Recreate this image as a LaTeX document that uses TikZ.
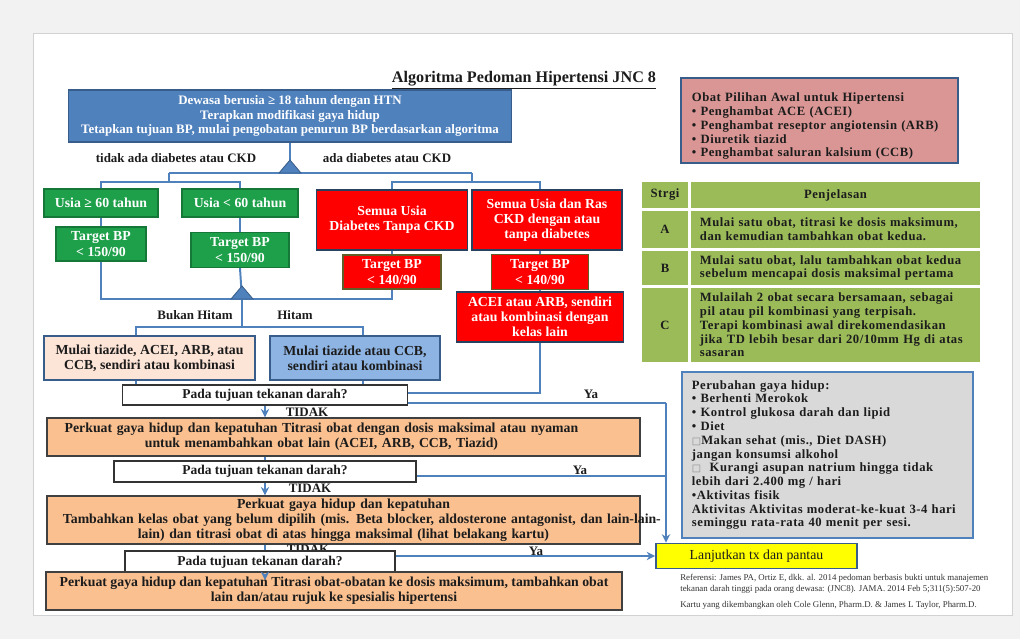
\documentclass[tikz,border=0pt]{standalone}
\usepackage{fontspec}
\setmainfont{Liberation Serif}
\newfontfamily\symfont{DejaVu Sans}
\usetikzlibrary{arrows.meta}
\definecolor{jncBlue}{RGB}{79,129,189}
\definecolor{jncBlueDark}{RGB}{56,93,138}
\definecolor{jncGreen}{RGB}{30,160,75}
\definecolor{jncRed}{RGB}{255,0,0}
\definecolor{jncPeach}{RGB}{252,228,214}
\definecolor{jncSky}{RGB}{142,180,227}
\definecolor{jncOrange}{RGB}{250,192,144}
\definecolor{jncPink}{RGB}{217,150,148}
\definecolor{jncOlive}{RGB}{155,187,89}
\definecolor{jncGray}{RGB}{217,217,217}
\definecolor{jncYellow}{RGB}{255,255,0}
\definecolor{jncText}{RGB}{28,28,28}
\definecolor{pageGray}{RGB}{242,242,242}
\definecolor{panelEdge}{RGB}{210,210,210}
\newcommand{\gapbox}{{\symfont\color{black!45}\fontsize{7}{7}\selectfont □}}
\tikzset{
  flowbox/.style={draw, line width=0.9pt, inner sep=0pt, align=center, text=jncText,
    font=\bfseries\fontsize{9.8}{10.8}\selectfont},
  bluebox/.style={flowbox, draw=jncBlueDark, line width=1.2pt, fill=jncBlue, text=white,
    font=\bfseries\fontsize{9.2}{10.4}\selectfont},
  greenbox/.style={flowbox, draw=jncGreen!75!black, fill=jncGreen, text=white},
  redbox/.style={flowbox, draw=jncBlueDark!70!black, line width=1.2pt, fill=jncRed, text=white},
  redtarget/.style={flowbox, draw=olive!60!black, line width=1.2pt, fill=jncRed, text=white},
  askbox/.style={flowbox, draw=black!80, fill=white, font=\bfseries\fontsize{9.6}{10.4}\selectfont},
  stepbox/.style={flowbox, draw=black!75, fill=jncOrange},
  lbl/.style={inner sep=0pt, text=jncText, font=\bfseries\fontsize{9.2}{10}\selectfont},
  cell/.style={fill=jncOlive, inner sep=0pt, text=jncText, align=center,
    font=\bfseries\fontsize{9}{9.8}\selectfont\addfontfeature{LetterSpace=4}},
  celltext/.style={cell, align=left, text width=6.775cm, inner xsep=0.225cm},
  listbox/.style={draw=jncBlueDark, line width=1.2pt, align=left, text=jncText, inner ysep=0pt,
    font=\bfseries\fontsize{9}{9.8}\selectfont\addfontfeature{LetterSpace=4}},
  conn/.style={draw=jncBlue, line width=1.4pt},
  connarrow/.style={conn, -{Stealth[length=6pt,width=6pt]}},
  branch/.style={fill=jncBlue, draw=jncBlueDark, line width=0.6pt},
}
\begin{document}
\begin{tikzpicture}[x=0.025cm, y=-0.025cm]
\useasboundingbox (0,0) rectangle (1020,639);
\fill[pageGray] (0,0) rectangle (1020,639);
\draw[panelEdge, fill=white] (33,33) rectangle (1012,615);

\node[font=\bfseries\fontsize{11.5}{13}\selectfont, text=jncText] (title) at (524,80) {\underline{Algoritma Pedoman Hipertensi JNC 8}};

% algorithm, left column
\node[bluebox, minimum width=11.075cm, minimum height=1.3cm] (hdr) at (290,116) {Dewasa berusia ≥ 18 tahun dengan HTN\\Terapkan modifikasi gaya hidup\\Tetapkan tujuan BP, mulai pengobatan penurun BP berdasarkan algoritma};
\node[lbl] (noDm) at (176,158) {tidak ada diabetes atau CKD};
\node[lbl] (dm) at (387,158) {ada diabetes atau CKD};

\node[greenbox, minimum width=2.85cm, minimum height=0.7cm] (g1) at (101,203) {Usia ≥ 60 tahun};
\node[greenbox, minimum width=2.9cm, minimum height=0.7cm] (g2) at (240,203) {Usia < 60 tahun};
\node[greenbox, minimum width=2.25cm, minimum height=0.85cm] (g3) at (101,244) {Target BP\\< 150/90};
\node[greenbox, minimum width=2.45cm, minimum height=0.875cm] (g4) at (240,250) {Target BP\\< 150/90};

\node[redbox, minimum width=3.775cm, minimum height=1.5cm] (r1) at (392,220) {Semua Usia\\Diabetes Tanpa CKD};
\node[redbox, minimum width=3.75cm, minimum height=1.5cm] (r2) at (547,220) {Semua Usia dan Ras\\CKD dengan atau\\tanpa diabetes};
\node[redtarget, minimum width=2.45cm, minimum height=0.85cm] (r3) at (392,272) {Target BP\\< 140/90};
\node[redtarget, minimum width=2.425cm, minimum height=0.875cm] (r4) at (540,272) {Target BP\\< 140/90};
\node[redbox, minimum width=4.175cm, minimum height=1.25cm] (r5) at (540,317) {ACEI atau ARB, sendiri\\atau kombinasi dengan\\kelas lain};

\node[lbl] (nonBlack) at (195,315) {Bukan Hitam};
\node[lbl] (black) at (295,315) {Hitam};
\node[flowbox, draw=jncBlueDark, fill=jncPeach, minimum width=5.275cm, minimum height=1.1cm] (peach) at (149.5,358) {Mulai tiazide, ACEI, ARB, atau\\CCB, sendiri atau kombinasi};
\node[flowbox, draw=jncBlueDark, fill=jncSky, minimum width=4.25cm, minimum height=1.1cm] (sky) at (355,358) {Mulai tiazide atau CCB,\\sendiri atau kombinasi};

\node[askbox, minimum width=7.125cm, minimum height=0.5cm] (pada1) at (265,395) {Pada tujuan tekanan darah?};
\node[lbl] (no1) at (307,412) {TIDAK};
\node[stepbox, minimum width=14.825cm, minimum height=0.95cm, text width=14.825cm] (o1) at (343.5,437) {\hspace*{-1.1cm}Perkuat gaya hidup dan kepatuhan Titrasi obat dengan dosis maksimal atau nyaman\\\hspace*{-1.1cm}untuk menambahkan obat lain (ACEI, ARB, CCB, Tiazid)};
\node[askbox, minimum width=7.55cm, minimum height=0.525cm] (pada2) at (265,471.5) {Pada tujuan tekanan darah?};
\node[lbl] (no2) at (310,488) {TIDAK};
\node[stepbox, minimum width=14.825cm, minimum height=1.2cm, text width=14.825cm] (o2) at (343.5,520) {Perkuat gaya hidup dan kepatuhan\\\makebox[\linewidth][l]{\hspace*{0.4cm}Tambahkan kelas obat yang belum dipilih (mis. Beta blocker, aldosterone antagonist, dan lain-lain-}\\lain) dan titrasi obat di atas hingga maksimal (lihat belakang kartu)};
\node[lbl] (no3) at (308,549) {TIDAK};
\node[askbox, minimum width=6.75cm, minimum height=0.55cm] (pada3) at (260,562) {Pada tujuan tekanan darah?};
\node[stepbox, minimum width=14.4cm, minimum height=0.95cm] (o3) at (334,591) {Perkuat gaya hidup dan kepatuhan Titrasi obat-obatan ke dosis maksimum, tambahkan obat\\lain dan/atau rujuk ke spesialis hipertensi};

\node[lbl] (yes1) at (591,394) {Ya};
\node[lbl] (yes2) at (580,470) {Ya};
\node[lbl] (yes3) at (536,551) {Ya};
\node[draw=jncBlueDark, line width=1.2pt, fill=jncYellow, text=jncText, minimum width=5.025cm, minimum height=0.625cm, font=\fontsize{9.8}{11}\selectfont] (lanj) at (756.5,556) {Lanjutkan tx dan pantau};

% junctions
\coordinate (tri1) at (290,173);
\coordinate (jL) at (169,173);
\coordinate (jR) at (472,173);
\coordinate (jL2) at (169,182);
\coordinate (jR2) at (472,182);
\coordinate (tri2) at (242,299);
\coordinate (jB) at (242,327);
\coordinate (jB1) at (136,327);
\coordinate (jB2) at (363,327);
\coordinate (r5in) at (540,393);
\coordinate (yaCol) at (666,403);
\coordinate (ya2) at (666,476);
\coordinate (o3in) at (265,580);

\draw[conn] (hdr.south) -- (tri1);
\draw[conn] (jL) -- (jR);
\draw[conn] (jL) -- (jL2);
\draw[conn] (jR) -- (jR2);
\draw[conn] (g1.north) |- (jL2) -| (g2.north);
\draw[conn] (r1.north) |- (jR2) -| (r4.north |- r2.north);
\draw[conn] (g1.south) -- (g3.north);
\draw[conn] (g2.south) -- (g4.north);
\draw[conn] (r1.south) -- (r3.north);
\draw[conn] (r4.north |- r2.south) -- (r4.north);
\draw[conn] (r4.south) -- (r5.north);
\draw[conn] (g3.south) |- (tri2) -| (r3.south);
\draw[conn] (g4.south) -- (tri2);
\draw[conn] (tri2) -- (jB);
\draw[conn] (jB1 |- peach.north) -- (jB1) -- (jB2) -- (jB2 |- sky.north);
\draw[conn] (jB1 |- peach.south) -- (jB1 |- pada1.north);
\draw[conn] (jB2 |- sky.south) -- (jB2 |- pada1.north);
\draw[conn] (r5.south) -- (r5in) -- (pada1.east |- r5in);
\draw[conn] (pada1.east |- yaCol) -- (yaCol);
\draw[connarrow] (yaCol) -- (yaCol |- lanj.north);
\draw[conn] (pada2.east |- ya2) -- (ya2);
\draw[connarrow] (pada3.east |- lanj.west) -- (lanj.west);
\draw[connarrow] (pada1.south) -- (o1.north -| pada1.south);
\draw[conn] (o1.south -| pada1.south) -- (pada2.north);
\draw[connarrow] (pada2.south) -- (o2.north -| pada2.south);
\draw[conn] (o2.south -| pada2.south) -- (pada3.north -| pada2.south);
\draw[connarrow] (pada3.south -| pada2.south) -- (o3in);
\filldraw[branch] (tri1) ++(-11,0) -- ++(11,-13) -- ++(11,13) -- cycle;
\filldraw[branch] (tri2) ++(-11,0) -- ++(11,-13) -- ++(11,13) -- cycle;

% right column
\node[listbox, fill=jncPink, minimum height=2.125cm, text width=6.375cm, inner xsep=0.275cm] (drugs) at (819.5,120.5) {\rule{0pt}{14.5pt}Obat Pilihan Awal untuk Hipertensi\\• Penghambat ACE (ACEI)\\• Penghambat reseptor angiotensin (ARB)\\• Diuretik tiazid\\• Penghambat saluran kalsium (CCB)};

\node[cell, minimum width=1.15cm, minimum height=0.65cm] (hStr) at (665,195) {Strgi};
\node[cell, minimum width=7.225cm, minimum height=0.65cm] (hPen) at (835.5,195) {Penjelasan};
\node[cell, minimum width=1.15cm, minimum height=0.925cm] (sA) at (665,229.5) {A};
\node[celltext, minimum height=0.925cm] (pA) at (835.5,229.5) {Mulai satu obat, titrasi ke dosis maksimum,\\dan kemudian tambahkan obat kedua.};
\node[cell, minimum width=1.15cm, minimum height=0.85cm] (sB) at (665,268) {B};
\node[celltext, minimum height=0.85cm] (pB) at (835.5,268) {Mulai satu obat, lalu tambahkan obat kedua\\sebelum mencapai dosis maksimal pertama};
\node[cell, minimum width=1.15cm, minimum height=1.85cm] (sC) at (665,325) {C};
\node[celltext, minimum height=1.85cm] (pC) at (835.5,325) {Mulailah 2 obat secara bersamaan, sebagai\\pil atau pil kombinasi yang terpisah.\\Terapi kombinasi awal direkomendasikan\\jika TD lebih besar dari 20/10mm Hg di atas\\sasaran};

\node[listbox, fill=jncGray, draw=jncBlue, line width=1.6pt, minimum height=4.15cm, text width=6.775cm, inner xsep=0.25cm] (life) at (827.5,455) {Perubahan gaya hidup:\\• Berhenti Merokok\\• Kontrol glukosa darah dan lipid\\• Diet\\\gapbox Makan sehat (mis., Diet DASH)\\jangan konsumsi alkohol\\\gapbox\ \ Kurangi asupan natrium hingga tidak\\lebih dari 2.400 mg / hari\\•Aktivitas fisik\\Aktivitas Aktivitas moderat-ke-kuat 3-4 hari\\seminggu rata-rata 40 menit per sesi.};

\node[anchor=west, align=left, inner sep=0pt, text=black!80, font=\fontsize{6.3}{7.6}\selectfont] (ref) at (680,584) {Referensi: James PA, Ortiz E, dkk. al. 2014 pedoman berbasis bukti untuk manajemen\\tekanan darah tinggi pada orang dewasa: (JNC8). JAMA. 2014 Feb 5;311(5):507-20};
\node[anchor=west, inner sep=0pt, text=black!80, font=\fontsize{6.3}{7.6}\selectfont] (credit) at (680,605) {Kartu yang dikembangkan oleh Cole Glenn, Pharm.D. \& James L Taylor, Pharm.D.};
\end{tikzpicture}
\end{document}
